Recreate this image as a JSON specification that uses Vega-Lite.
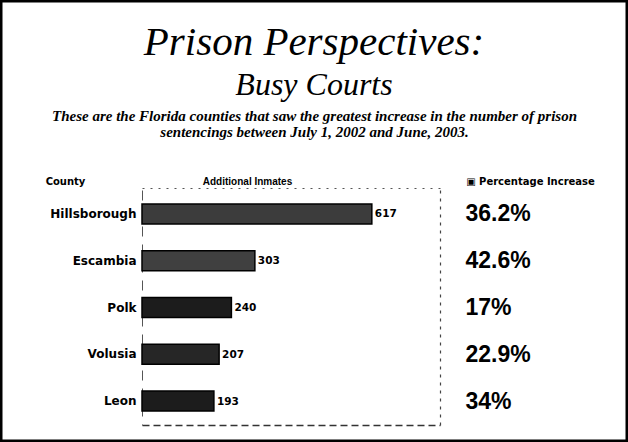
{
  "$schema": "https://vega.github.io/schema/vega-lite/v6.json",
  "width": 628,
  "height": 442,
  "autosize": {"type": "fit", "contains": "padding"},
  "padding": 0,
  "background": "white",
  "config": {"view": {"stroke": "black", "strokeWidth": 5}},
  "title": {
    "text": "Prison Perspectives:",
    "subtitle": "Busy Courts",
    "anchor": "middle",
    "offset": -102,
    "font": "Liberation Serif",
    "fontSize": 41,
    "fontStyle": "italic",
    "fontWeight": "normal",
    "color": "black",
    "subtitleFont": "Liberation Serif",
    "subtitleFontSize": 32,
    "subtitleFontStyle": "italic",
    "subtitleFontWeight": "normal",
    "subtitleColor": "black",
    "subtitlePadding": 6
  },
  "data": {
    "values": [
      {"county": "Hillsborough", "inmates": 617, "pct": "36.2%"},
      {"county": "Escambia", "inmates": 303, "pct": "42.6%"},
      {"county": "Polk", "inmates": 240, "pct": "17%"},
      {"county": "Volusia", "inmates": 207, "pct": "22.9%"},
      {"county": "Leon", "inmates": 193, "pct": "34%"}
    ]
  },
  "layer": [
    {
      "mark": {"type": "bar", "stroke": "black", "strokeWidth": 1.5},
      "encoding": {
        "y": {
          "field": "county", "type": "nominal", "sort": null,
          "scale": {"range": [190, 425], "paddingInner": 0.57, "paddingOuter": 0.3},
          "axis": {
            "orient": "left", "offset": -142,
            "title": "County", "titleAngle": 0, "titleX": -77, "titleY": 184,
            "titleAlign": "center", "titleBaseline": "alphabetic",
            "titleFont": "DejaVu Sans", "titleFontSize": 10, "titleFontWeight": "bold", "titleColor": "black",
            "labelFont": "DejaVu Sans", "labelFontSize": 12, "labelFontWeight": "bold", "labelColor": "black",
            "labelPadding": 6, "ticks": false, "grid": false,
            "domain": true, "domainColor": "#555", "domainWidth": 1, "domainDash": [10, 8]
          }
        },
        "x": {
          "field": "inmates", "type": "quantitative",
          "scale": {"domain": [0, 800], "range": [142, 440], "nice": false},
          "axis": {
            "orient": "bottom", "offset": -17, "labels": false, "ticks": false, "grid": false,
            "domain": true, "domainColor": "#333", "domainWidth": 1.5, "domainDash": [7, 4],
            "title": ["These are the Florida counties that saw the greatest increase in the number of prison", "sentencings between July 1, 2002 and June, 2003."],
            "titleX": 314, "titleY": -305, "titleAlign": "center", "titleBaseline": "alphabetic",
            "titleFont": "Liberation Serif", "titleFontSize": 15, "titleFontStyle": "italic", "titleFontWeight": "bold",
            "titleColor": "black", "titleLineHeight": 16.5
          }
        },
        "color": {
          "field": "county", "type": "nominal", "sort": null, "legend": null,
          "scale": {"range": ["#3c3c3c", "#404040", "#1c1c1c", "#262626", "#1c1c1c"]}
        }
      }
    },
    {
      "mark": {"type": "text", "align": "left", "baseline": "middle", "dx": 3, "font": "DejaVu Sans", "fontSize": 10.5, "fontWeight": "bold", "color": "black"},
      "encoding": {
        "y": {
          "field": "pct", "type": "nominal", "sort": null,
          "scale": {"range": [190, 425], "paddingInner": 0.57, "paddingOuter": 0.3},
          "axis": {
            "orient": "right", "offset": -188,
            "title": "▣ Percentage Increase", "titleAngle": 0, "titleX": 90, "titleY": 184,
            "titleAlign": "center", "titleBaseline": "alphabetic",
            "titleFont": "DejaVu Sans", "titleFontSize": 10, "titleFontWeight": "bold", "titleColor": "black",
            "labelFont": "Liberation Sans", "labelFontSize": 23, "labelFontWeight": "bold", "labelColor": "black",
            "labelAlign": "left", "labelPadding": 25, "ticks": false, "grid": false,
            "domain": true, "domainColor": "#444", "domainWidth": 1.2, "domainDash": [3, 5]
          }
        },
        "x": {
          "field": "inmates", "type": "quantitative",
          "axis": {
            "orient": "top", "offset": -188, "labels": false, "ticks": false, "grid": false,
            "domain": true, "domainColor": "#555", "domainWidth": 1.2, "domainDash": [2, 6],
            "title": "Additional Inmates", "titleX": 247, "titleY": -4,
            "titleAlign": "center", "titleBaseline": "alphabetic",
            "titleFont": "Liberation Sans", "titleFontSize": 10, "titleFontWeight": "bold", "titleColor": "black"
          }
        },
        "text": {"field": "inmates", "type": "quantitative"}
      }
    }
  ],
  "resolve": {"scale": {"y": "independent"}, "axis": {"x": "independent", "y": "independent"}}
}
